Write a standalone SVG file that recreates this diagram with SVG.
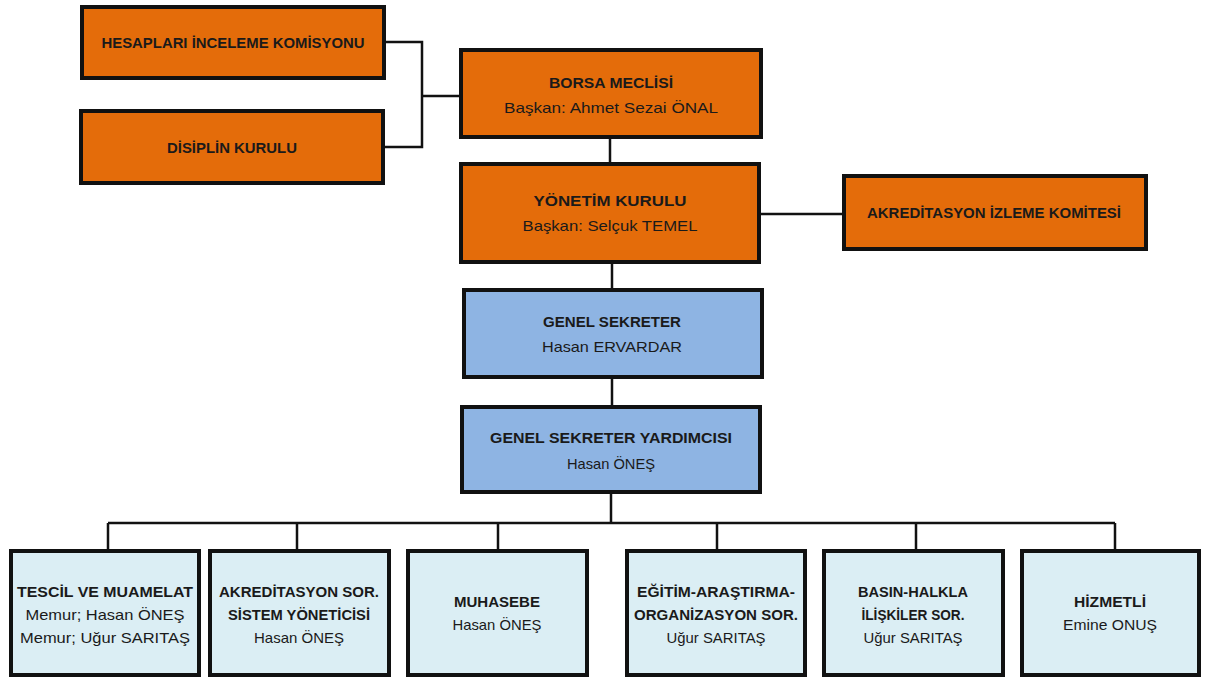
<svg xmlns="http://www.w3.org/2000/svg" width="1206" height="682" viewBox="0 0 1206 682">
<style>
.o{fill:#E46C0A;stroke:#111;stroke-width:4}
.b{fill:#8EB4E3;stroke:#111;stroke-width:4}
.l{fill:#DBEEF4;stroke:#111;stroke-width:4}
.c{fill:none;stroke:#111;stroke-width:2.5}
text{font-family:"Liberation Sans",Arial,sans-serif;font-size:15px;fill:#1a1a1a;text-anchor:middle}
.t{font-weight:bold}
</style>
<rect width="1206" height="682" fill="#fff"/>
<g id="connectors">
<path class="c" d="M386,42 H422 V147 H385"/>
<path class="c" d="M422,96 H459"/>
<path class="c" d="M610,139 V162"/>
<path class="c" d="M761,214 H842"/>
<path class="c" d="M612,264 V288"/>
<path class="c" d="M612,379 V405"/>
<path class="c" d="M611,494 V523"/>
<path class="c" d="M108,523 H1115"/>
<path class="c" d="M108,523 V549 M297,523 V549 M498,523 V549 M717,523 V549 M916,523 V549 M1115,523 V549"/>
</g>
<g id="hesaplari">
<rect class="o" x="82" y="7" width="302" height="71"/>
<text class="t" x="233" y="48" textLength="263" lengthAdjust="spacingAndGlyphs">HESAPLARI İNCELEME KOMİSYONU</text>
</g>
<g id="disiplin">
<rect class="o" x="81" y="111" width="302" height="72"/>
<text class="t" x="232" y="153" textLength="130" lengthAdjust="spacingAndGlyphs">DİSİPLİN KURULU</text>
</g>
<g id="borsa">
<rect class="o" x="461" y="50" width="300" height="87"/>
<text class="t" x="611" y="88" font-size="17" textLength="124" lengthAdjust="spacingAndGlyphs">BORSA MECLİSİ</text>
<text x="611" y="113" font-size="17" textLength="214" lengthAdjust="spacingAndGlyphs">Başkan: Ahmet Sezai ÖNAL</text>
</g>
<g id="yonetim">
<rect class="o" x="461" y="164" width="298" height="98"/>
<text class="t" x="610" y="206" font-size="17" textLength="153" lengthAdjust="spacingAndGlyphs">YÖNETİM KURULU</text>
<text x="610" y="231" font-size="17" textLength="175" lengthAdjust="spacingAndGlyphs">Başkan: Selçuk TEMEL</text>
</g>
<g id="akreditasyon-izleme">
<rect class="o" x="844" y="176" width="302" height="73"/>
<text class="t" x="994" y="218" textLength="254" lengthAdjust="spacingAndGlyphs">AKREDİTASYON İZLEME KOMİTESİ</text>
</g>
<g id="genel-sekreter">
<rect class="b" x="464" y="290" width="298" height="87"/>
<text class="t" x="612" y="327" font-size="17" textLength="138" lengthAdjust="spacingAndGlyphs">GENEL SEKRETER</text>
<text x="612" y="352" font-size="17" textLength="140" lengthAdjust="spacingAndGlyphs">Hasan ERVARDAR</text>
</g>
<g id="genel-sekreter-yardimcisi">
<rect class="b" x="462" y="407" width="298" height="85"/>
<text class="t" x="611" y="443" font-size="17" textLength="242" lengthAdjust="spacingAndGlyphs">GENEL SEKRETER YARDIMCISI</text>
<text x="611" y="469" font-size="17" textLength="88" lengthAdjust="spacingAndGlyphs">Hasan ÖNEŞ</text>
</g>
<g id="tescil">
<rect class="l" x="11" y="551" width="188" height="124"/>
<text class="t" x="105" y="597" font-size="16" textLength="176" lengthAdjust="spacingAndGlyphs">TESCİL VE MUAMELAT</text>
<text x="105" y="620" font-size="16" textLength="159" lengthAdjust="spacingAndGlyphs">Memur; Hasan ÖNEŞ</text>
<text x="105" y="643" font-size="16" textLength="170" lengthAdjust="spacingAndGlyphs">Memur; Uğur SARITAŞ</text>
</g>
<g id="akreditasyon-sor">
<rect class="l" x="210" y="551" width="179" height="124"/>
<text class="t" x="299" y="597" font-size="16" textLength="160" lengthAdjust="spacingAndGlyphs">AKREDİTASYON SOR.</text>
<text class="t" x="299" y="620" font-size="16" textLength="142" lengthAdjust="spacingAndGlyphs">SİSTEM YÖNETİCİSİ</text>
<text x="299" y="643" font-size="16" textLength="90" lengthAdjust="spacingAndGlyphs">Hasan ÖNEŞ</text>
</g>
<g id="muhasebe">
<rect class="l" x="408" y="551" width="179" height="124"/>
<text class="t" x="497" y="607" font-size="16" textLength="86" lengthAdjust="spacingAndGlyphs">MUHASEBE</text>
<text x="497" y="630" font-size="16" textLength="89" lengthAdjust="spacingAndGlyphs">Hasan ÖNEŞ</text>
</g>
<g id="egitim">
<rect class="l" x="627" y="551" width="178" height="124"/>
<text class="t" x="716" y="597" font-size="16" textLength="158" lengthAdjust="spacingAndGlyphs">EĞİTİM-ARAŞTIRMA-</text>
<text class="t" x="716" y="620" font-size="16" textLength="164" lengthAdjust="spacingAndGlyphs">ORGANİZASYON SOR.</text>
<text x="716" y="643" font-size="16" textLength="99" lengthAdjust="spacingAndGlyphs">Uğur SARITAŞ</text>
</g>
<g id="basin">
<rect class="l" x="824" y="551" width="179" height="124"/>
<text class="t" x="913" y="597" font-size="16" textLength="110" lengthAdjust="spacingAndGlyphs">BASIN-HALKLA</text>
<text class="t" x="913" y="620" font-size="16" textLength="103" lengthAdjust="spacingAndGlyphs">İLİŞKİLER SOR.</text>
<text x="913" y="643" font-size="16" textLength="99" lengthAdjust="spacingAndGlyphs">Uğur SARITAŞ</text>
</g>
<g id="hizmetli">
<rect class="l" x="1022" y="551" width="177" height="124"/>
<text class="t" x="1110" y="607" font-size="16" textLength="72" lengthAdjust="spacingAndGlyphs">HİZMETLİ</text>
<text x="1110" y="630" font-size="16" textLength="94" lengthAdjust="spacingAndGlyphs">Emine ONUŞ</text>
</g>
</svg>
